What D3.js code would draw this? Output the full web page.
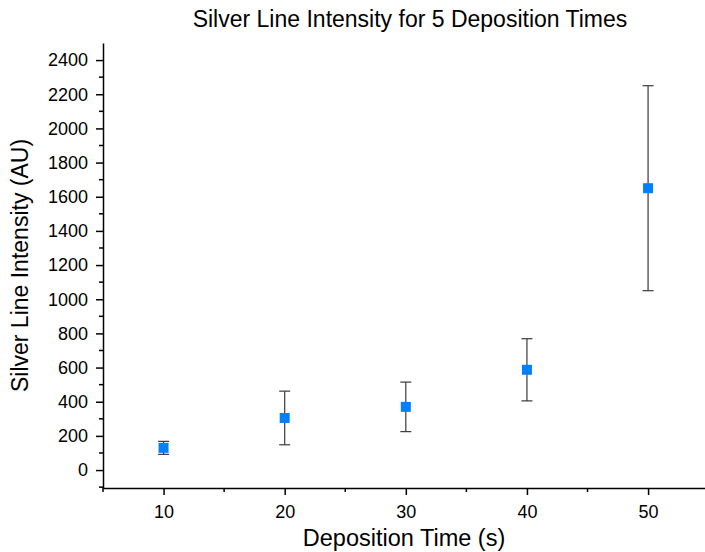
<!DOCTYPE html>
<html>
<head>
<meta charset="utf-8">
<script src="https://cdn.jsdelivr.net/npm/d3@7"></script>
<style>
  body { margin: 0; background: #fff; }
  text { font-family: "Liberation Sans", Arial, sans-serif; fill: #000; }
</style>
</head>
<body>
<div id="chart"></div>
<script>
// data
var times = [10, 20, 30, 40, 50];
var intensity = [130, 305, 370, 587, 1650];
var errors = [38, 157, 145, 182, 600];
var xTicks = [10, 20, 30, 40, 50];
var yTicks = [0, 200, 400, 600, 800, 1000, 1200, 1400, 1600, 1800, 2000, 2200, 2400];

var width = 705, height = 552;
var plotLeft = 103, plotRight = 705, plotTop = 43, plotBottom = 488;

var svg = d3.select("#chart")
    .append("svg")
    .attr("width", width)
    .attr("height", height);

var x = d3.scaleLinear().domain([5, 54.7]).range([plotLeft, plotRight]);
var y = d3.scaleLinear().domain([-105, 2500]).range([plotBottom, plotTop]);

// x axis
var xAxis = d3.axisBottom(x)
    .tickValues(xTicks)
    .tickFormat(d3.format("d"))
    .tickSizeInner(7)
    .tickSizeOuter(0)
    .tickPadding(10);
var gx = svg.append("g")
    .attr("transform", "translate(0," + plotBottom + ")")
    .call(xAxis);
gx.selectAll("text").style("font-size", "18px");
gx.selectAll(".tick line").attr("stroke-width", 1.5);
gx.select(".domain").attr("stroke-width", 1.5);
gx.selectAll(".minor")
  .data([5, 15, 25, 35, 45])
  .enter()
    .append("line")
    .attr("class", "minor")
    .attr("x1", function(d) { return x(d); })
    .attr("x2", function(d) { return x(d); })
    .attr("y1", 0)
    .attr("y2", 4)
    .attr("stroke", "#000")
    .attr("stroke-width", 1.5);

// y axis
var yAxis = d3.axisLeft(y)
    .tickValues(yTicks)
    .tickFormat(d3.format("d"))
    .tickSizeInner(7)
    .tickSizeOuter(0)
    .tickPadding(8);
var gy = svg.append("g")
    .attr("transform", "translate(" + plotLeft + ",0)")
    .call(yAxis);
gy.selectAll("text").style("font-size", "18px");
gy.selectAll(".tick line").attr("stroke-width", 1.5);
gy.select(".domain").attr("stroke-width", 1.5);
gy.selectAll(".minor")
  .data(d3.range(-100, 2500, 200))
  .enter()
    .append("line")
    .attr("class", "minor")
    .attr("y1", function(d) { return y(d); })
    .attr("y2", function(d) { return y(d); })
    .attr("x1", 0)
    .attr("x2", -4)
    .attr("stroke", "#000")
    .attr("stroke-width", 1.5);

// error bars
var eb = svg.append("g").attr("class", "errorbars");
eb.selectAll("line.stem")
  .data(times)
  .enter()
    .append("line")
    .attr("class", "stem")
    .attr("x1", function(d) { return x(d); })
    .attr("x2", function(d) { return x(d); })
    .attr("y1", function(d, i) { return y(intensity[i] - errors[i]); })
    .attr("y2", function(d, i) { return y(intensity[i] + errors[i]); })
    .attr("stroke", "#3a3a3a")
    .attr("stroke-width", 1.2);
[-1, 1].forEach(function(s) {
  eb.selectAll("line.cap" + (s + 1))
    .data(times)
    .enter()
      .append("line")
      .attr("class", "cap" + (s + 1))
      .attr("x1", function(d) { return x(d) - 5.5; })
      .attr("x2", function(d) { return x(d) + 5.5; })
      .attr("y1", function(d, i) { return y(intensity[i] + s * errors[i]); })
      .attr("y2", function(d, i) { return y(intensity[i] + s * errors[i]); })
      .attr("stroke", "#3a3a3a")
      .attr("stroke-width", 1.2);
});

// markers
svg.selectAll("rect.pt")
  .data(times)
  .enter()
    .append("rect")
    .attr("class", "pt")
    .attr("x", function(d) { return x(d) - 5; })
    .attr("y", function(d, i) { return y(intensity[i]) - 5; })
    .attr("width", 10)
    .attr("height", 10)
    .attr("fill", "#0080ff");

// titles
svg.append("text")
    .attr("x", 410)
    .attr("y", 27)
    .attr("text-anchor", "middle")
    .style("font-size", "23px")
    .text("Silver Line Intensity for 5 Deposition Times");

svg.append("text")
    .attr("x", (plotLeft + plotRight) / 2)
    .attr("y", 546)
    .attr("text-anchor", "middle")
    .style("font-size", "23.5px")
    .text("Deposition Time (s)");

svg.append("text")
    .attr("transform", "translate(28," + ((plotTop + plotBottom) / 2) + ") rotate(-90)")
    .attr("text-anchor", "middle")
    .style("font-size", "23px")
    .text("Silver Line Intensity (AU)");
</script>
</body>
</html>
